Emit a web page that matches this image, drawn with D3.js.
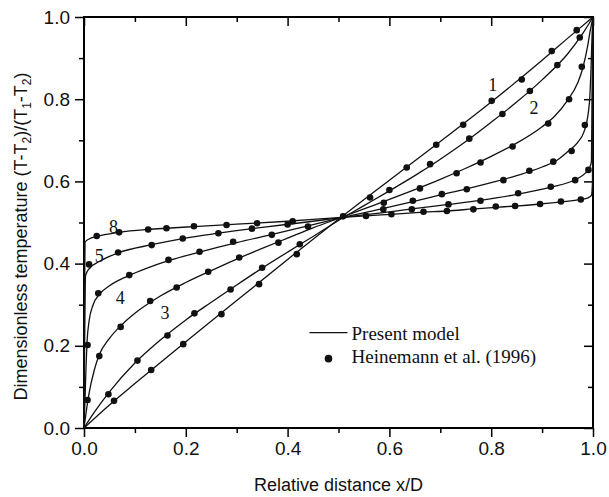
<!DOCTYPE html>
<html>
<head>
<meta charset="utf-8">
<script src="https://cdn.jsdelivr.net/npm/d3@7"></script>
<style>
body { margin: 0; background: #fff; }
</style>
</head>
<body>
<script>
// model curves (Present model), [x/D, theta]
const model1 = [[0,0],[0.05,0.056],[0.1,0.108],[0.2,0.21],[0.3,0.31],[0.4,0.41],[0.5,0.508],[0.6,0.603],[0.7,0.697],[0.8,0.793],[0.9,0.895],[0.95,0.948],[1,1]];
const model2 = [[0,0],[0.02,0.038],[0.05,0.088],[0.1,0.158],[0.15,0.214],[0.2,0.263],[0.25,0.306],[0.3,0.348],[0.35,0.389],[0.4,0.428],[0.45,0.466],[0.5,0.505],[0.55,0.541],[0.6,0.577],[0.65,0.614],[0.7,0.654],[0.75,0.697],[0.8,0.744],[0.85,0.793],[0.9,0.847],[0.95,0.91],[0.98,0.96],[1,1]];
const model3 = [[0,0],[0.005,0.045],[0.01,0.085],[0.02,0.14],[0.03,0.178],[0.05,0.218],[0.075,0.252],[0.1,0.279],[0.15,0.321],[0.2,0.354],[0.25,0.383],[0.3,0.411],[0.35,0.437],[0.4,0.462],[0.45,0.487],[0.5,0.51],[0.55,0.533],[0.6,0.556],[0.65,0.58],[0.7,0.605],[0.75,0.632],[0.8,0.661],[0.85,0.693],[0.9,0.733],[0.925,0.759],[0.95,0.797],[0.97,0.84],[0.98,0.876],[0.99,0.933],[0.995,0.97],[1,1]];
const model4 = [[0,0],[0.002,0.07],[0.004,0.15],[0.006,0.21],[0.01,0.26],[0.018,0.3],[0.03,0.325],[0.05,0.346],[0.087,0.37],[0.12,0.387],[0.166,0.407],[0.227,0.428],[0.3,0.451],[0.37,0.471],[0.44,0.492],[0.5,0.51],[0.58,0.532],[0.646,0.551],[0.7,0.567],[0.752,0.582],[0.8,0.597],[0.85,0.614],[0.9,0.635],[0.93,0.652],[0.95,0.672],[0.97,0.695],[0.982,0.72],[0.99,0.76],[0.994,0.81],[0.996,0.87],[0.998,0.95],[1,1]];
const model5 = [[0,0],[0.003,0.37],[0.006,0.38],[0.012,0.39],[0.03,0.405],[0.067,0.426],[0.133,0.446],[0.194,0.461],[0.264,0.474],[0.35,0.488],[0.43,0.5],[0.5,0.511],[0.58,0.523],[0.644,0.533],[0.716,0.544],[0.779,0.554],[0.853,0.569],[0.917,0.586],[0.965,0.604],[0.985,0.62],[0.994,0.635],[0.997,0.65],[0.998,0.8],[1,1]];
const model8 = [[0,0],[0.001,0.3],[0.002,0.452],[0.01,0.46],[0.025,0.466],[0.069,0.476],[0.126,0.483],[0.162,0.486],[0.216,0.49],[0.3,0.496],[0.4,0.503],[0.5,0.512],[0.554,0.516],[0.604,0.52],[0.667,0.525],[0.713,0.528],[0.765,0.533],[0.809,0.537],[0.847,0.54],[0.896,0.545],[0.937,0.55],[0.976,0.556],[0.99,0.56],[0.997,0.566],[0.999,0.6],[1,1]];

// Heinemann et al. (1996) measurements
const heinemann1 = [[0.059,0.066],[0.132,0.141],[0.195,0.204],[0.27,0.277],[0.344,0.35],[0.418,0.423],[0.562,0.561],[0.634,0.634],[0.692,0.689],[0.745,0.738],[0.801,0.796],[0.86,0.848],[0.919,0.917],[0.968,0.968]];
const heinemann2 = [[0.048,0.082],[0.105,0.164],[0.164,0.225],[0.217,0.279],[0.288,0.337],[0.35,0.39],[0.424,0.447],[0.6,0.579],[0.68,0.642],[0.757,0.704],[0.822,0.764],[0.876,0.82],[0.93,0.883],[0.974,0.95]];
const heinemann3 = [[0.03,0.175],[0.072,0.246],[0.13,0.309],[0.182,0.342],[0.244,0.38],[0.305,0.415],[0.382,0.451],[0.589,0.548],[0.66,0.583],[0.732,0.62],[0.779,0.646],[0.842,0.685],[0.912,0.741],[0.953,0.8],[0.978,0.879]];
const heinemann4 = [[0.007,0.068],[0.007,0.202],[0.028,0.328],[0.089,0.372],[0.166,0.409],[0.227,0.429],[0.293,0.453],[0.369,0.47],[0.44,0.49],[0.588,0.532],[0.646,0.553],[0.703,0.569],[0.752,0.581],[0.824,0.603],[0.875,0.626],[0.922,0.648],[0.958,0.674],[0.984,0.737]];
const heinemann5 = [[0.01,0.398],[0.067,0.427],[0.133,0.445],[0.194,0.461],[0.264,0.474],[0.33,0.485],[0.4,0.495],[0.644,0.532],[0.716,0.544],[0.779,0.553],[0.853,0.571],[0.917,0.587],[0.965,0.603],[0.991,0.628]];
const heinemann8 = [[0.025,0.467],[0.069,0.476],[0.126,0.483],[0.162,0.486],[0.216,0.491],[0.28,0.494],[0.34,0.498],[0.41,0.503],[0.509,0.515],[0.554,0.516],[0.604,0.52],[0.667,0.526],[0.713,0.528],[0.765,0.532],[0.809,0.539],[0.847,0.54],[0.896,0.545],[0.937,0.551],[0.976,0.556]];

// curve labels
const labelText = ["1", "2", "3", "4", "5", "8"];
const labelX = [0.803, 0.884, 0.159, 0.071, 0.03, 0.058];
const labelY = [0.835, 0.78, 0.28, 0.316, 0.42, 0.49];

const xTicks = [0, 0.2, 0.4, 0.6, 0.8, 1.0];
const yTicks = [0, 0.2, 0.4, 0.6, 0.8, 1.0];
const minorTicks = [0.1, 0.3, 0.5, 0.7, 0.9];

const svgWidth = 609;
const svgHeight = 497;
const margin = {top: 17, right: 16, bottom: 69, left: 84};
const chartWidth = svgWidth - margin.left - margin.right;
const chartHeight = svgHeight - margin.top - margin.bottom;

const svg = d3.select("body")
    .append("svg")
    .attr("width", svgWidth)
    .attr("height", svgHeight);

const g = svg.append("g")
    .attr("transform", `translate(${margin.left}, ${margin.top})`);

const x = d3.scaleLinear().domain([0, 1]).range([0, chartWidth]);
const y = d3.scaleLinear().domain([0, 1]).range([chartHeight, 0]);

const sans = "'Liberation Sans', Arial, sans-serif";
const serif = "'Liberation Serif', 'Times New Roman', serif";

// axes: left/bottom ticks outward, top/right inward
function styleAxis(sel) {
    sel.select(".domain").remove();
    sel.selectAll("line").attr("stroke", "#000").attr("stroke-width", 1.5);
    sel.selectAll("text").attr("font-family", sans).attr("font-size", 19).attr("fill", "#111");
}

g.append("g").attr("transform", `translate(0, ${chartHeight})`)
    .call(d3.axisBottom(x).tickValues(xTicks).tickFormat(d3.format(".1f")).tickSize(9).tickPadding(5))
    .call(styleAxis);
g.append("g").attr("transform", `translate(0, ${chartHeight})`)
    .call(d3.axisBottom(x).tickValues(minorTicks).tickFormat("").tickSize(5))
    .call(styleAxis);
g.append("g")
    .call(d3.axisLeft(y).tickValues(yTicks).tickFormat(d3.format(".1f")).tickSize(9).tickPadding(5))
    .call(styleAxis);
g.append("g")
    .call(d3.axisLeft(y).tickValues(minorTicks).tickFormat("").tickSize(5))
    .call(styleAxis);
g.append("g")
    .call(d3.axisTop(x).tickValues(xTicks).tickFormat("").tickSize(-9))
    .call(styleAxis);
g.append("g")
    .call(d3.axisTop(x).tickValues(minorTicks).tickFormat("").tickSize(-5))
    .call(styleAxis);
g.append("g").attr("transform", `translate(${chartWidth}, 0)`)
    .call(d3.axisRight(y).tickValues(yTicks).tickFormat("").tickSize(-9))
    .call(styleAxis);
g.append("g").attr("transform", `translate(${chartWidth}, 0)`)
    .call(d3.axisRight(y).tickValues(minorTicks).tickFormat("").tickSize(-5))
    .call(styleAxis);

g.append("rect")
    .attr("width", chartWidth)
    .attr("height", chartHeight)
    .attr("fill", "none")
    .attr("stroke", "#000")
    .attr("stroke-width", 2);

// model lines
const line = d3.line()
    .x(d => x(d[0]))
    .y(d => y(d[1]))
    .curve(d3.curveMonotoneX);

const models = [model1, model2, model3, model4, model5, model8];
g.append("g")
    .selectAll(null)
    .data(models)
    .join("path")
    .attr("d", line)
    .attr("fill", "none")
    .attr("stroke", "#111")
    .attr("stroke-width", 1.3);

// measured points
const measured = [heinemann1, heinemann2, heinemann3, heinemann4, heinemann5, heinemann8].flat();
g.append("g")
    .selectAll(null)
    .data(measured)
    .join("circle")
    .attr("cx", d => x(d[0]))
    .attr("cy", d => y(d[1]))
    .attr("r", 3.3)
    .attr("fill", "#111");

// curve labels
g.append("g")
    .selectAll(null)
    .data(labelText)
    .join("text")
    .attr("x", (d, i) => x(labelX[i]))
    .attr("y", (d, i) => y(labelY[i]))
    .attr("dy", "0.35em")
    .attr("text-anchor", "middle")
    .attr("font-family", serif)
    .attr("font-size", 18)
    .attr("fill", "#111")
    .text(d => d);

// legend
const legend = g.append("g").attr("transform", `translate(${x(0.443)}, ${y(0.232)})`);
legend.append("line")
    .attr("x1", 0).attr("x2", 38)
    .attr("stroke", "#111").attr("stroke-width", 1.3);
legend.append("text")
    .attr("x", 42).attr("y", 7)
    .attr("font-family", serif).attr("font-size", 19).attr("fill", "#111")
    .text("Present model");
legend.append("circle")
    .attr("cx", 19).attr("cy", 26)
    .attr("r", 3.8).attr("fill", "#111");
legend.append("text")
    .attr("x", 42).attr("y", 30)
    .attr("font-family", serif).attr("font-size", 19).attr("fill", "#111")
    .text("Heinemann et al. (1996)");

// axis titles
svg.append("text")
    .attr("x", margin.left + chartWidth / 2)
    .attr("y", 491)
    .attr("text-anchor", "middle")
    .attr("font-family", sans).attr("font-size", 18).attr("fill", "#111")
    .text("Relative distance x/D");

const yTitle = svg.append("text")
    .attr("transform", `translate(27, ${margin.top + chartHeight / 2 + 14}) rotate(-90)`)
    .attr("text-anchor", "middle")
    .attr("font-family", sans).attr("font-size", 18).attr("fill", "#111");
yTitle.append("tspan").text("Dimensionless temperature (T-T");
yTitle.append("tspan").attr("font-size", 12).attr("dy", 4).text("2");
yTitle.append("tspan").attr("dy", -4).text(")/(T");
yTitle.append("tspan").attr("font-size", 12).attr("dy", 4).text("1");
yTitle.append("tspan").attr("dy", -4).text("-T");
yTitle.append("tspan").attr("font-size", 12).attr("dy", 4).text("2");
yTitle.append("tspan").attr("dy", -4).text(")");
</script>
</body>
</html>
